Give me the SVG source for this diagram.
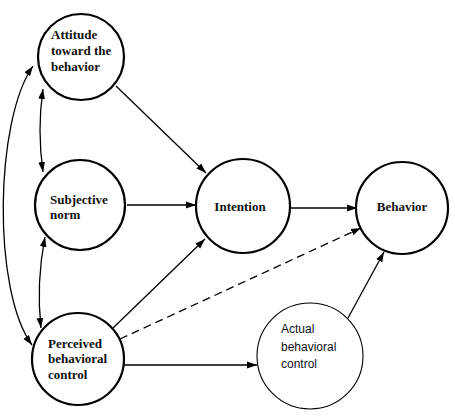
<svg xmlns="http://www.w3.org/2000/svg" width="455" height="420" viewBox="0 0 455 420">
<style>
.node{fill:#fff;stroke:#000;stroke-width:2.2}
.thin{fill:#fff;stroke:#000;stroke-width:1.1}
.lbl{font-family:"Liberation Serif","DejaVu Serif",serif;font-weight:bold;font-size:13px;fill:#111}
.lbl2{font-family:"Liberation Sans","DejaVu Sans",sans-serif;font-size:12px;fill:#111122}
.c{text-anchor:middle}
.edge{fill:none;stroke:#000;stroke-width:1.3}
.dash{stroke-dasharray:8 5}
</style>
<defs>
<marker id="ah" markerUnits="userSpaceOnUse" markerWidth="12" markerHeight="10" refX="10" refY="5" orient="auto-start-reverse" viewBox="0 0 12 10">
<path d="M0,1.6 L10,5 L0,8.4 Z" fill="#000"/>
</marker>
</defs>
<g id="connectors">
<path class="edge" d="M116,86 L206,173" marker-end="url(#ah)"/>
<path class="edge" d="M127,205 L196,205" marker-end="url(#ah)"/>
<path class="edge" d="M113,328 L205,239" marker-end="url(#ah)"/>
<path class="edge dash" d="M120,339 L361,228" marker-end="url(#ah)"/>
<path class="edge" d="M124,365 L257,365" marker-end="url(#ah)"/>
<path class="edge" d="M348,318 L384,252" marker-end="url(#ah)"/>
<path class="edge" d="M290,208 L357,208" marker-end="url(#ah)"/>
<path class="edge" d="M43,89 Q37,130 43,172" marker-start="url(#ah)" marker-end="url(#ah)"/>
<path class="edge" d="M45,237 Q36,283 41,328" marker-start="url(#ah)" marker-end="url(#ah)"/>
<path class="edge" d="M33,66 C-5,120 -8,290 32,345" marker-start="url(#ah)" marker-end="url(#ah)"/>
</g>
<g id="attitude">
<circle class="node" cx="81" cy="57" r="43"/>
<text class="lbl" x="51" y="39">Attitude</text>
<text class="lbl" x="51" y="55">toward the</text>
<text class="lbl" x="51" y="71">behavior</text>
</g>
<g id="subjective-norm">
<circle class="node" cx="80" cy="205" r="45"/>
<text class="lbl" x="50" y="204">Subjective</text>
<text class="lbl" x="50" y="219">norm</text>
</g>
<g id="perceived">
<circle class="node" cx="78" cy="359" r="46"/>
<text class="lbl" x="48" y="348">Perceived</text>
<text class="lbl" x="48" y="363">behavioral</text>
<text class="lbl" x="48" y="379">control</text>
</g>
<g id="intention">
<circle class="node" cx="243" cy="206" r="47"/>
<text class="lbl c" x="240" y="211">Intention</text>
</g>
<g id="behavior">
<circle class="node" cx="402" cy="208" r="46"/>
<text class="lbl c" x="402" y="211">Behavior</text>
</g>
<g id="actual">
<circle class="thin" cx="310" cy="356" r="53"/>
<text class="lbl2" x="281" y="333">Actual</text>
<text class="lbl2" x="281" y="351">behavioral</text>
<text class="lbl2" x="281" y="368">control</text>
</g>
</svg>
